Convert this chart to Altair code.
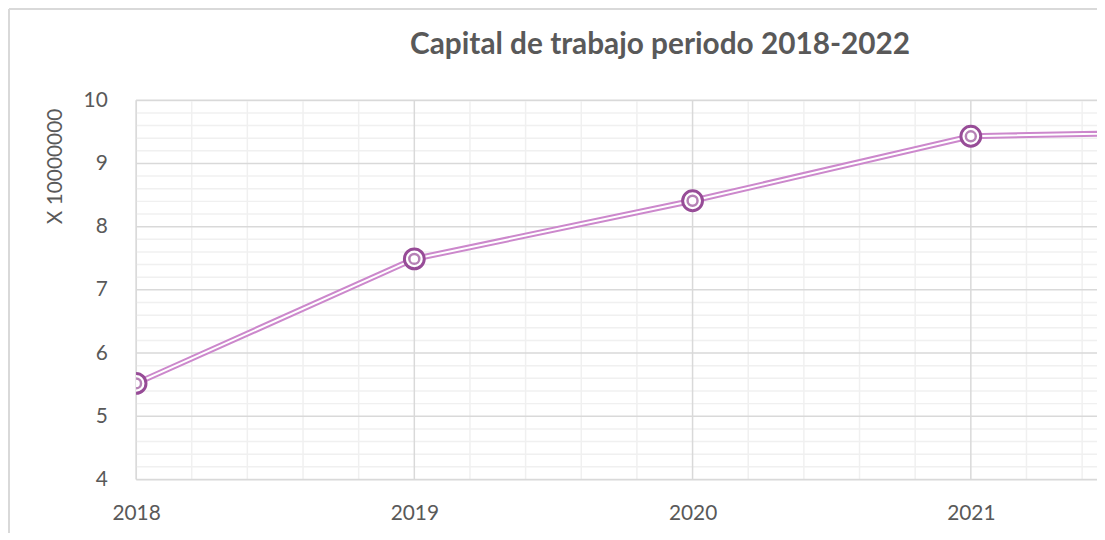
import altair as alt
import pandas as pd

# Data
years = [2018, 2019, 2020, 2021, 2022]
values = [5.52, 7.49, 8.41, 9.43, 9.52]

x_major = [2018, 2019, 2020, 2021]
x_minor = [2018.2, 2018.4, 2018.6, 2018.8,
           2019.2, 2019.4, 2019.6, 2019.8,
           2020.2, 2020.4, 2020.6, 2020.8,
           2021.2, 2021.4]
y_major = [4, 5, 6, 7, 8, 9, 10]
y_minor = [4.2, 4.4, 4.6, 4.8, 5.2, 5.4, 5.6, 5.8, 6.2, 6.4, 6.6, 6.8,
           7.2, 7.4, 7.6, 7.8, 8.2, 8.4, 8.6, 8.8, 9.2, 9.4, 9.6, 9.8]

title_text = ["Capital de trabajo periodo 2018-2022"]
y_title = "X 10000000"

W = 968
H = 382
PX_PER_YEAR = 280.3
x_end = 2018 + W / PX_PER_YEAR

FONT = "Lato"
TXT = "#595959"
MAJOR = "#D9D9D9"
MINOR = "#F0F0F0"
LINE = "#CC88CC"
MARK = "#974C97"

df = pd.DataFrame({"year": years, "value": values})

xs = alt.Scale(domain=[2018, x_end], nice=False, zero=False)
ys = alt.Scale(domain=[4, 10], nice=False, zero=False)

x_axis = alt.Axis(values=x_major, format="d", grid=False, ticks=False, tickSize=0,
                  domain=False, labelFontSize=21, labelFont=FONT, labelColor=TXT,
                  labelPadding=23, labelFlush=False, title=None)
y_axis = alt.Axis(values=y_major, format="d", grid=False, ticks=False, tickSize=0,
                  domain=False, labelFontSize=21, labelFont=FONT, labelColor=TXT,
                  labelPadding=29, labelFlush=False, title=y_title, titleFont=FONT,
                  titleFontSize=21, titleFontWeight="normal", titleColor=TXT,
                  titleAnchor="end", titleX=-71, titleY=8, titleBaseline="bottom")

X = lambda f: alt.X(f, scale=xs, axis=x_axis)
Y = lambda f: alt.Y(f, scale=ys, axis=y_axis)

vminor = alt.Chart(pd.DataFrame({"year": x_minor})).mark_rule(
    color=MINOR, strokeWidth=1.5).encode(x=X("year:Q"))
hminor = alt.Chart(pd.DataFrame({"value": y_minor})).mark_rule(
    color=MINOR, strokeWidth=1.5).encode(y=Y("value:Q"))
vmajor = alt.Chart(pd.DataFrame({"year": x_major})).mark_rule(
    color=MAJOR, strokeWidth=1.5).encode(x=X("year:Q"))
hmajor = alt.Chart(pd.DataFrame({"value": y_major})).mark_rule(
    color=MAJOR, strokeWidth=1.5).encode(y=Y("value:Q"))

base = alt.Chart(df).encode(x=X("year:Q"), y=Y("value:Q"))
line_outer = base.mark_line(color=LINE, strokeWidth=6, clip=True)
line_inner = base.mark_line(color="white", strokeWidth=2, clip=True)
pt_outer = base.mark_point(shape="circle", size=400, filled=False, fill="white",
                           fillOpacity=1, color=MARK, strokeWidth=3, clip=True)
pt_inner = base.mark_point(shape="circle", size=100, filled=False, color=MARK,
                           strokeWidth=2.5, clip=True)

# outer chart-area border (left and top edges)
border_left = alt.Chart(df).mark_rule(color=MAJOR, strokeWidth=2).encode(
    x=alt.value(-128), y=alt.value(-92), y2=alt.value(800))
border_top = alt.Chart(df).mark_rule(color=MAJOR, strokeWidth=2).encode(
    x=alt.value(-128), x2=alt.value(3000), y=alt.value(-92))

title = alt.Chart(pd.DataFrame({"t": title_text})).mark_text(
    font=FONT, fontSize=30, fontWeight="bold", color=TXT, align="left",
    baseline="alphabetic").encode(text="t:N", x=alt.value(276), y=alt.value(-47))

chart = alt.layer(
    vminor, hminor, vmajor, hmajor, line_outer, line_inner, pt_outer, pt_inner,
    border_left, border_top, title,
).properties(
    width=W, height=H,
    autosize=alt.AutoSizeParams(type="none"),
    padding={"left": 129, "top": 91, "right": 0, "bottom": 52},
).configure_view(stroke=None).configure(background="white")

chart.save("out.html", embed_options={"renderer": "svg", "actions": False})
